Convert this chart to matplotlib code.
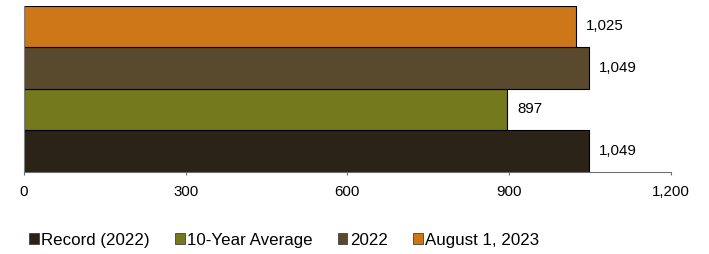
import numpy as np
import matplotlib.pyplot as plt
from matplotlib.patches import Patch

plt.rcParams['font.family'] = ['Liberation Sans', 'DejaVu Sans']

categories = ["Record (2022)", "10-Year Average", "2022", "August 1, 2023"]
values = [1049, 897, 1049, 1025]
labels = ["1,049", "897", "1,049", "1,025"]
colors = ["#2B2317", "#73791C", "#594A2D", "#CD7718"]
xticks = [0, 300, 600, 900, 1200]
xticklabels = ["0", "300", "600", "900", "1,200"]

fig = plt.figure(figsize=(7.09, 2.54), dpi=100)
ax = fig.add_axes([0.0339, 0.324, 0.912, 0.654])

y = np.arange(len(categories))
ax.barh(y, values, height=1.0, color=colors, edgecolor="black", linewidth=0.8)

for yi, v, lab in zip(y, values, labels):
    ax.annotate(lab, xy=(v, yi), xytext=(7, 0), textcoords="offset points",
                va="center", ha="left", fontsize=10.8)

ax.set_xlim(0, 1200)
ax.set_ylim(-0.5, len(categories) - 0.5)
ax.set_xticks(xticks)
ax.set_xticklabels(xticklabels, fontsize=10.8)
ax.set_yticks([])
ax.tick_params(axis="x", length=2.5, color="#707070", pad=7)
for s in ["top", "right"]:
    ax.spines[s].set_visible(False)
ax.spines["left"].set_color("#808080")
ax.spines["bottom"].set_color("#707070")

handles = [Patch(facecolor=c, edgecolor="#404040", linewidth=0.6, label=n)
           for c, n in zip(colors, categories)]
fig.legend(handles=handles, loc="center", bbox_to_anchor=(0.401, 0.055), ncol=4,
           frameon=False, fontsize=12.2, handlelength=0.55, handleheight=0.55,
           handletextpad=0.15, columnspacing=1.5, borderaxespad=0)

fig.savefig("out.png", dpi=100)
